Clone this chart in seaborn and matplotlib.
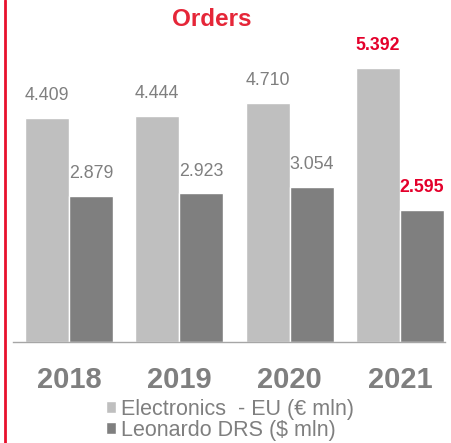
import pandas as pd
import seaborn as sns
import matplotlib.pyplot as plt
from matplotlib.lines import Line2D

# data
years = ["2018", "2019", "2020", "2021"]
electronics_eu = [4409, 4444, 4710, 5392]
leonardo_drs = [2879, 2923, 3054, 2595]
labels_eu = ["4.409", "4.444", "4.710", "5.392"]
labels_drs = ["2.879", "2.923", "3.054", "2.595"]
series_names = ["Electronics  - EU (€ mln)", "Leonardo DRS ($ mln)"]

df = pd.DataFrame({"Year": years, series_names[0]: electronics_eu,
                   series_names[1]: leonardo_drs})
df_long = df.melt(id_vars="Year", var_name="Serie", value_name="Valore")

GREY_TXT = "#7F7F7F"
RED = "#E4002B"

sns.set_style("white")
plt.rcParams["font.family"] = ["Liberation Sans", "DejaVu Sans"]

fig = plt.figure(figsize=(4.52, 4.43), dpi=100)
ax = fig.add_axes([13 / 452, (443 - 342) / 443, 432 / 452, 282 / 443])

sns.barplot(data=df_long, x="Year", y="Valore", hue="Serie",
            palette=["#BFBFBF", "#7F7F7F"], width=0.8, saturation=1,
            ax=ax, legend=True)

ax.set_xlim(-0.508, 3.408)
ax.set_ylim(0, 5550)

# value labels
for cont, labs in zip(ax.containers, [labels_eu, labels_drs]):
    for i, (bar, lab) in enumerate(zip(cont, labs)):
        last = i == len(labs) - 1
        ax.annotate(lab, (bar.get_x() + bar.get_width() / 2, bar.get_height()),
                    xytext=(0, 10), textcoords="offset points",
                    ha="center", va="bottom", fontsize=12.8,
                    color=RED if last else GREY_TXT,
                    fontweight="bold" if last else "normal")

for s in ["top", "left", "right"]:
    ax.spines[s].set_visible(False)
ax.spines["bottom"].set_color("#A6A6A6")
ax.spines["bottom"].set_linewidth(1)
ax.set_yticks([])
ax.set_xlabel("")
ax.set_ylabel("")
ax.tick_params(axis="x", length=0, pad=17, labelsize=21, labelcolor=GREY_TXT)
for t in ax.get_xticklabels():
    t.set_fontweight("bold")

leg = ax.legend(loc="upper left", bbox_to_anchor=(106 / 452, 1 - 399 / 443),
                bbox_transform=fig.transFigure, frameon=False, fontsize=15.5,
                handlelength=0.48, handleheight=0.48, handletextpad=0.22,
                borderpad=0, borderaxespad=0, labelspacing=0.0)
for t in leg.get_texts():
    t.set_color(GREY_TXT)

fig.text(212 / 452, 1 - 20 / 443, "Orders", ha="center", va="center",
         fontsize=17.5, fontweight="bold", color="#E52638")

# red line on the left edge
fig.add_artist(Line2D([5 / 452, 5 / 452], [0, 1], color="#E8112D", lw=2,
                      transform=fig.transFigure))

fig.savefig("out.png", dpi=100)
plt.close(fig)
